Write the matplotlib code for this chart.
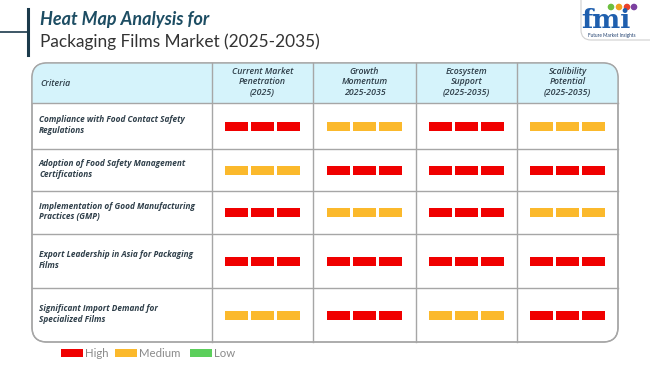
import matplotlib
matplotlib.use('Agg')
import matplotlib.pyplot as plt
from matplotlib.patches import FancyBboxPatch, Rectangle, Circle

plt.rcParams['font.family'] = ['Lato', 'DejaVu Sans']
table_font = ['Open Sans', 'DejaVu Sans']

# data
criteria = [
    'Compliance with Food Contact Safety\nRegulations',
    'Adoption of Food Safety Management\nCertifications',
    'Implementation of Good Manufacturing\nPractices (GMP)',
    'Export Leadership in Asia for Packaging\nFilms',
    'Significant Import Demand for\nSpecialized Films',
]
columns = [
    'Current Market\nPenetration\n(2025)',
    'Growth\nMomentum\n2025-2035',
    'Ecosystem\nSupport\n(2025-2035)',
    'Scalibility\nPotential\n(2025-2035)',
]
levels = [
    ['High', 'Medium', 'High', 'Medium'],
    ['Medium', 'High', 'High', 'High'],
    ['High', 'Medium', 'High', 'Medium'],
    ['High', 'High', 'High', 'High'],
    ['Medium', 'High', 'Medium', 'High'],
]
legend_labels = ['High', 'Medium', 'Low']
level_colors = {'High': '#f00000', 'Medium': '#fbb92c', 'Low': '#5ccf5c'}

# layout (pixels)
col_edges = [32, 212, 313, 416, 517, 618]
row_edges = [63, 103, 149, 191, 234, 288, 342]
grid_col = '#a6a6a6'
text_col = '#2f3f4a'

fig = plt.figure(figsize=(6.5, 3.65), dpi=100)
ax = fig.add_axes([0, 0, 1, 1])
ax.set_xlim(0, 650)
ax.set_ylim(365, 0)
ax.axis('off')

# title block
ax.plot([0, 28], [32, 32], color='#1b3a4b', lw=1.2)
ax.plot([28, 28], [9, 55], color='#1b3a4b', lw=2.2)
ax.text(40, 19, 'Heat Map Analysis for', fontsize=13, fontweight='bold',
        style='italic', color='#1d4d63', va='center', ha='left')
ax.text(40, 42, 'Packaging Films Market (2025-2035)', fontsize=12.4,
        color='#333333', va='center', ha='left')

# logo
logo = FancyBboxPatch((581, -10), 80, 50, boxstyle='round,pad=0,rounding_size=10',
                      fc='white', ec='#d0d0d0', lw=0.8)
ax.add_patch(logo)
ax.text(606, 20, 'fmi', fontsize=19, fontweight='bold', color='#1f5fae',
        family=['DejaVu Serif'], ha='center', va='center')
for cx, c in zip([611, 619, 627], ['#6cbf3f', '#f0a020', '#e8412c']):
    ax.add_patch(Circle((cx, 7), 2.6, color=c))
ax.add_patch(Circle((634, 7), 2.6, color='#7b3fa0'))
ax.text(612, 35, 'Future Market Insights', fontsize=3.4, color='#1f3f6e',
        ha='center', va='center')

# table outer box and header
x0, x1 = col_edges[0], col_edges[-1]
y0, y1 = row_edges[0], row_edges[-1]
box = FancyBboxPatch((x0, y0), x1 - x0, y1 - y0,
                     boxstyle='round,pad=0,rounding_size=15',
                     fc='white', ec=grid_col, lw=1.0, zorder=1)
ax.add_patch(box)
hdr = Rectangle((x0, y0), x1 - x0, row_edges[1] - y0, fc='#d5f3fb', ec='none', zorder=2)
hdr.set_clip_path(box)
ax.add_patch(hdr)
box2 = FancyBboxPatch((x0, y0), x1 - x0, y1 - y0,
                      boxstyle='round,pad=0,rounding_size=15',
                      fc='none', ec=grid_col, lw=1.0, zorder=4)
ax.add_patch(box2)

for xc in col_edges[1:-1]:
    ax.plot([xc, xc], [y0, y1], color=grid_col, lw=1.0, zorder=3)
for yr in row_edges[1:-1]:
    ax.plot([x0, x1], [yr, yr], color=grid_col, lw=1.0, zorder=3)

# header text
ax.text(40, (row_edges[0] + row_edges[1]) / 2, 'Criteria', fontsize=6.3,
        style='italic', fontweight='semibold', color=text_col, va='center',
        family=table_font, zorder=5)
for j, lab in enumerate(columns):
    cx = (col_edges[j + 1] + col_edges[j + 2]) / 2
    ax.text(cx, (row_edges[0] + row_edges[1]) / 2 - 1, lab, fontsize=6.3,
            style='italic', fontweight='semibold', color=text_col, family=table_font,
            ha='center', va='center', linespacing=1.2, zorder=5)

# rows
bar_w, bar_h, gap = 23, 9, 3
for i, crit in enumerate(criteria):
    cy = (row_edges[i + 1] + row_edges[i + 2]) / 2
    ax.text(39, cy - 1, crit, fontsize=5.95, style='italic', fontweight='bold',
            color=text_col, family=table_font, va='center', ha='left',
            linespacing=1.25, zorder=5)
    for j, lev in enumerate(levels[i]):
        cx = (col_edges[j + 1] + col_edges[j + 2]) / 2
        start = cx - (3 * bar_w + 2 * gap) / 2
        for k in range(3):
            ax.add_patch(Rectangle((start + k * (bar_w + gap), cy - bar_h / 2),
                                   bar_w, bar_h, fc=level_colors[lev], ec='none', zorder=5))

# legend
lx = 61
for lab in legend_labels:
    ax.add_patch(Rectangle((lx, 349), 22, 8, fc=level_colors[lab], ec='none'))
    ax.text(lx + 24, 353.5, lab, fontsize=8.2, color='#8a8a8a', va='center', ha='left')
    lx += {'High': 54, 'Medium': 75, 'Low': 0}[lab]

fig.savefig('out.png', dpi=100)
